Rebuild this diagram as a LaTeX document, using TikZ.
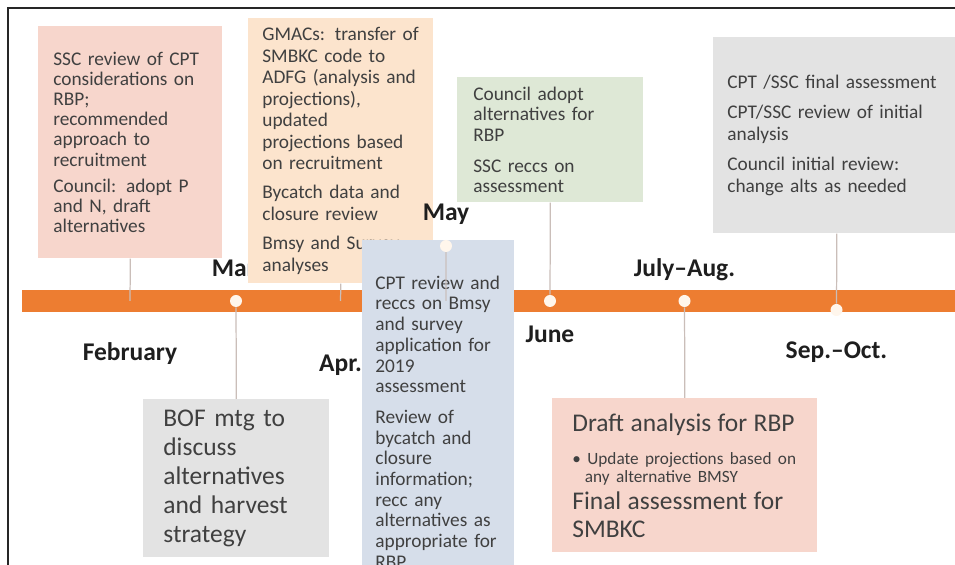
\documentclass[tikz,border=0pt]{standalone}
\usepackage{fontspec}
\setmainfont{Carlito}
\usepackage{tikz}
\usetikzlibrary{positioning}

\definecolor{barorange}{HTML}{ED7D31}
\definecolor{dotfill}{HTML}{FFF6EC}
\definecolor{boxsalmon}{HTML}{F7D6CC}
\definecolor{boxpeach}{HTML}{FCE4CD}
\definecolor{boxgreen}{HTML}{DEE8D6}
\definecolor{boxgray}{HTML}{E3E3E3}
\definecolor{boxblue}{HTML}{D6DEEA}
\definecolor{cardtext}{HTML}{404040}
\definecolor{monthtext}{HTML}{1E1E1E}
\definecolor{stemgray}{HTML}{CABEB9}

\tikzstyle{card} = [rectangle, anchor=north west, align=left, inner ysep=0pt,
  text=cardtext, font=\fontsize{11}{12.2}\selectfont]
\tikzstyle{month} = [font=\fontsize{14.5}{16}\selectfont\bfseries, text=monthtext,
  inner sep=0pt, text height=10pt, text depth=3pt]
\tikzstyle{stem} = [draw=stemgray, line width=0.7pt]
\tikzstyle{dot} = [circle, fill=dotfill, inner sep=0pt, minimum size=0.24cm]

\begin{document}
\begin{tikzpicture}
    \useasboundingbox (0,0) rectangle (19.1,-11.3);
    \clip (0,0) rectangle (19.1,-11.3);
    \fill[white] (0,0) rectangle (19.1,-11.3);
    \draw[line width=1.1pt, draw=black!85] (0.16,-11.3) -- (0.16,-0.16) -- (19.1,-0.16);

    % timeline
    \fill[barorange] (0.44,-5.80) rectangle (19.2,-6.24);
    \coordinate (feb) at (2.60,-6.02);
    \node[dot] (mar) at (4.72,-6.02) {};
    \coordinate (apr) at (6.81,-6.02);
    \node[dot] (jun) at (11.0,-6.02) {};
    \node[dot] (jul) at (13.69,-6.02) {};
    \node[dot] (sep) at (16.73,-6.2) {};

    % months
    \node[month, below=0.83cm of feb] (lfeb) {February};
    \node[month, above=0.25cm of mar] (lmar) {Mar.};
    \node[month, below=1.05cm of apr] (lapr) {Apr.};
    \node[month, below=0.35cm of jun] (ljun) {June};
    \node[month, above=0.25cm of jul] (ljul) {July–Aug.};
    \node[month, below=0.49cm of sep] (lsep) {Sep.–Oct.};

    % events above the line
    \node[card, fill=boxsalmon, text width=3.08cm, inner xsep=0.3cm, minimum height=4.64cm,
      font=\fontsize{11}{11.5}\selectfont] (ssc) at (0.76,-0.52)
      {SSC review of CPT\\ considerations on\\ RBP;\\ recommended\\ approach to\\ recruitment\\[3.5pt]
       Council: adopt P\\ and N, draft\\ alternatives};
    \node[card, fill=boxpeach, text width=3.14cm, inner xsep=0.28cm, minimum height=5.30cm] (gmacs) at (4.96,-0.36)
      {GMACs: transfer of\\ SMBKC code to\\ ADFG (analysis and\\ projections),\\ updated\\ projections based\\ on recruitment\\[4.5pt]
       Bycatch data and\\ closure review\\[4.5pt]
       Bmsy and Survey\\ analyses};
    \node[card, fill=boxgreen, text width=3.08cm, inner xsep=0.32cm, minimum height=2.5cm,
      font=\fontsize{11}{11.6}\selectfont] (council) at (9.14,-1.54)
      {Council adopt\\ alternatives for\\ RBP\\[6pt]
       SSC reccs on\\ assessment};
    \node[card, fill=boxgray, text width=4.38cm, inner xsep=0.28cm, minimum height=3.92cm,
      font=\fontsize{11}{12.5}\selectfont] (final) at (14.26,-0.74)
      {CPT /SSC final assessment\\[4.5pt]
       CPT/SSC review of initial\\ analysis\\[4.5pt]
       Council initial review:\\ change alts as needed};

    % events below the line
    \node[card, fill=boxgray, text width=2.92cm, inner xsep=0.40cm, minimum height=3.16cm,
      font=\fontsize{14.5}{16.5}\selectfont] (bof) at (2.86,-7.98)
      {BOF mtg to\\ discuss\\ alternatives\\ and harvest\\ strategy};
    \node[card, fill=boxsalmon, text width=4.50cm, inner xsep=0.40cm, minimum height=3.08cm] (draft) at (11.04,-7.96)
      {{\fontsize{14.5}{15.5}\selectfont Draft analysis for RBP\par}
       \vspace{9pt}
       {\fontsize{9.8}{10.2}\selectfont\textbullet\ Update projections based on\\ \hspace*{0.25cm}any alternative BMSY\par}
       {\fontsize{14.5}{15.5}\selectfont Final assessment for\\ SMBKC\par}};

    % stems
    \draw[stem] (ssc.south) -- (feb);
    \draw[stem] (gmacs.south) -- (apr);
    \draw[stem] (council.south) -- (jun);
    \draw[stem] (final.south) -- (sep);
    \draw[stem] (mar) -- (bof.north);
    \draw[stem] (jul) -- (draft.north);

    % May sits over the bar
    \node[card, fill=boxblue, text width=2.52cm, inner xsep=0.26cm, minimum height=7.27cm,
      font=\fontsize{11}{11.8}\selectfont] (cpt) at (7.24,-4.8)
      {CPT review and\\ reccs on Bmsy\\ and survey\\ application for\\ 2019\\ assessment\\[5.5pt]
       Review of\\ bycatch and\\ closure\\ information;\\ recc any\\ alternatives as\\ appropriate for\\ RBP};
    \node[dot] (may) at (8.92,-4.92) {};
    \node[month, above=0.27cm of may] (lmay) {May};
    \draw[stem, opacity=0.6] (may) -- (may |- mar);
\end{tikzpicture}
\end{document}
